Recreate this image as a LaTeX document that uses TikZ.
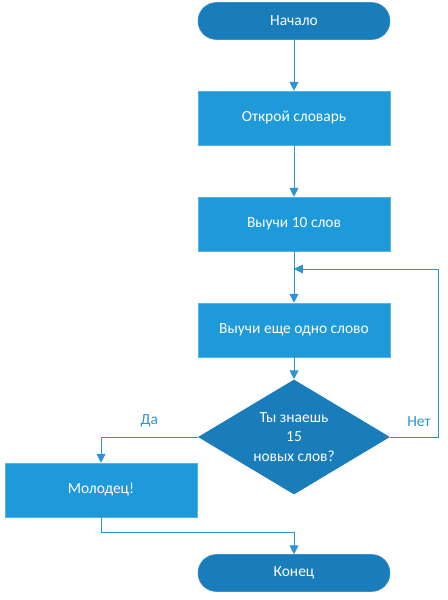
\documentclass[tikz,border=0pt]{standalone}
\usepackage{fontspec}
\setmainfont{Carlito}
\usetikzlibrary{shapes.geometric, arrows.meta}
\definecolor{boxblue}{RGB}{30,154,219}
\definecolor{termblue}{RGB}{26,125,187}
\definecolor{lineblue}{RGB}{44,148,208}
\begin{document}
\begin{tikzpicture}[>={Triangle[width=0.22cm,length=0.22cm]},
    font=\fontsize{11}{14}\selectfont,
    procbox/.style={rectangle, fill=boxblue, draw=boxblue!75!white, text=white,
        minimum width=4.8cm, minimum height=1.35cm},
    termbox/.style={rectangle, rounded corners=0.46cm, fill=termblue, draw=termblue!85!white,
        text=white, minimum width=4.8cm, minimum height=0.925cm},
    decide/.style={diamond, aspect=1.67, fill=termblue, text=white, align=center, inner sep=0pt,
        minimum width=4.8cm, minimum height=2.875cm},
    link/.style={->, lineblue, semithick},
    answer/.style={text=lineblue, above=0.12cm}]
    \useasboundingbox (0,0) rectangle (11.2,-15);

    % Main column
    \node[termbox] (start) at (7.35,-0.525) {Начало};
    \node[procbox] (open) at (7.35,-2.95) {Открой словарь};
    \node[procbox] (learnten) at (7.35,-5.6) {Выучи 10 слов};
    \node[procbox] (learnone) at (7.35,-8.25) {Выучи еще одно слово};
    \node[decide] (check) at (7.35,-10.925) {Ты знаешь\\15\\новых слов?};
    \node[procbox] (well) at (2.525,-12.25) {Молодец!};
    \node[termbox] (finish) at (7.35,-14.325) {Конец};

    % Helper points
    \coordinate (join) at (7.35,-6.725);
    \coordinate (loopx) at (10.95,-6.725);
    \coordinate (merge) at (2.525,-13.3);

    % Connectors
    \draw[link] (start) -- (open);
    \draw[link] (open) -- (learnten);
    \draw[link] (learnten) -- (learnone);
    \draw[link] (learnone) -- (check);
    \draw[link] (check.east) -| node[answer, pos=0.3] {Нет} (loopx) -- (join);
    \draw[link] (check.west) -| node[answer, pos=0.25] {Да} (well.north);
    \draw[link] (well.south) -- (merge) -| (finish.north);
\end{tikzpicture}
\end{document}
